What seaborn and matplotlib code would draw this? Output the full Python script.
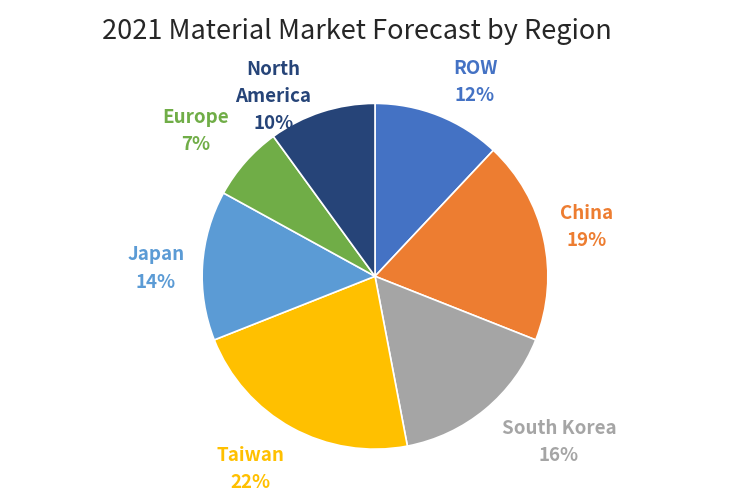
import numpy as np
import pandas as pd
import seaborn as sns
import matplotlib.pyplot as plt

# data
regions = ['ROW', 'China', 'South Korea', 'Taiwan', 'Japan', 'Europe', 'North\nAmerica']
shares = [12, 19, 16, 22, 14, 7, 10]
colors = ['#4472C4', '#ED7D31', '#A5A5A5', '#FFC000', '#5B9BD5', '#70AD47', '#264478']
# label placement (radius factor, angle nudge in degrees)
label_dist = [1.27, 1.26, 1.43, 1.32, 1.27, 1.34, 1.20]
label_nudge = [-5.5, 0.7, 8.5, -4.2, 1.3, 2.2, 11.4]

df = pd.DataFrame({'region': regions, 'share': shares})

sns.set_theme(style='white')
plt.rcParams['font.family'] = ['Noto Sans CJK SC', 'DejaVu Sans']

fig = plt.figure(figsize=(7.5, 5.02), dpi=100)
ax = fig.add_axes([0.0, 0.0, 1.0, 0.885])

labels = [f'{r}\n{s}%' for r, s in zip(df['region'], df['share'])]
wedges, texts = ax.pie(df['share'], labels=labels, colors=colors, startangle=90,
                       counterclock=False, labeldistance=1.0,
                       wedgeprops=dict(edgecolor='white', linewidth=1.2),
                       textprops=dict(fontsize=13.5, fontweight='bold', linespacing=1.55))
for w, t, c, d, n in zip(wedges, texts, colors, label_dist, label_nudge):
    ang = np.deg2rad((w.theta1 + w.theta2) / 2 + n)
    t.set_position((d * np.cos(ang), d * np.sin(ang)))
    t.set_ha('center')
    t.set_va('center')
    t.set_color(c)
ax.set_aspect('equal')
ax.set_xlim(-2.167, 2.167)
ax.set_ylim(-1.30, 1.27)

fig.text(0.476, 0.937, '2021 Material Market Forecast by Region', fontsize=19.5,
         ha='center', va='center', fontweight='light')
fig.savefig('out.png', dpi=100)
